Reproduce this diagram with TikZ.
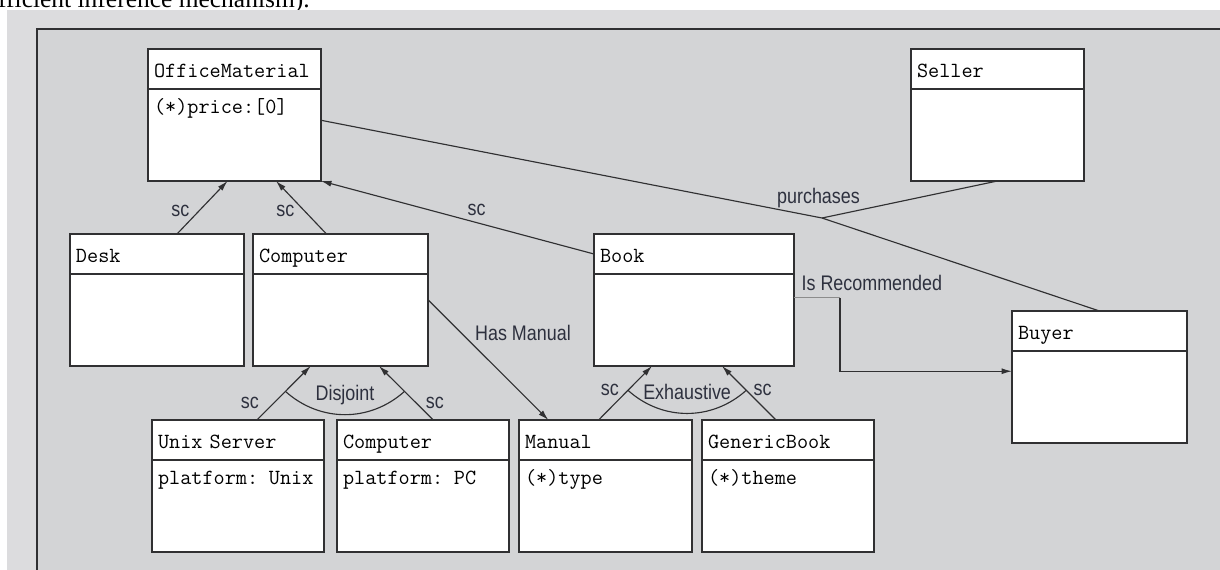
\documentclass[tikz,border=0pt]{standalone}
\usepackage{fontspec}
\newfontfamily\lblfont[FakeStretch=0.85]{Liberation Sans}
\newfontfamily\pagefont{Liberation Serif}
\usetikzlibrary{arrows.meta,positioning,calc}
\definecolor{pagegray}{RGB}{220,220,222}
\definecolor{panelgray}{RGB}{211,212,214}
\definecolor{inkgray}{RGB}{48,48,50}
\definecolor{lblink}{RGB}{45,48,62}
\begin{document}
\begin{tikzpicture}[x=0.02cm,y=-0.02cm,>={Latex[length=2.1mm,width=1.2mm]},
	hdr/.style={draw=inkgray,line width=0.9pt,fill=white,anchor=north west,align=left,outer sep=0pt,
		font=\fontsize{12.3}{14}\ttfamily,inner xsep=0.12cm,inner ysep=0.2cm,text height=0.36cm,text depth=0.04cm},
	bdy/.style={draw=inkgray,line width=0.9pt,fill=white,anchor=north,align=left,outer sep=0pt,
		font=\fontsize{12.3}{14}\ttfamily,inner xsep=0.12cm,inner ysep=0.1cm,text height=0.4cm,text depth=1.24cm},
	lbl/.style={font=\fontsize{12}{14}\lblfont,text=lblink},
	conn/.style={draw=inkgray,line width=0.65pt}]

	\useasboundingbox (0,0) rectangle (1220,569);
	\clip (0,0) rectangle (1220,569);

	% page and panel
	\fill[white] (0,0) rectangle (1220,569);
	\node[font=\fontsize{14.5}{16}\pagefont,anchor=base east,inner sep=0] (caption) at (310,7) {efficient inference mechanism).};
	\fill[pagegray] (7,10) rectangle (1240,590);
	\filldraw[fill=panelgray,draw=inkgray,line width=1pt] (37,29) rectangle (1250,600);

	% classes
	\foreach \id/\x/\y/\w/\title/\attr in {
		om/148/49/3.22/OfficeMaterial/(*)price:[0],
		seller/911/49/3.22/Seller/{},
		desk/70/234/3.24/Desk/{},
		comp/253/234/3.26/Computer/{},
		book/594/234/3.76/Book/{},
		buyer/1012/311/3.26/Buyer/{},
		unix/152/420/3.20/Unix Server/platform: Unix,
		pc/337/420/3.20/Computer/platform: PC,
		man/519/420/3.22/Manual/(*)type,
		gen/702/420/3.20/GenericBook/(*)theme} {
		\node[hdr,text width=\w cm] (\id) at (\x,\y) {\title};
		\node[bdy,text width=\w cm] (\id b) at (\id.south) {\attr};
	}

	% sc links to OfficeMaterial
	\draw[conn,->] ($(desk.north west)!.615!(desk.north east)$) -- node[lbl,pos=.44,left=2pt] {sc} ($(omb.south west)!.46!(omb.south east)$);
	\draw[conn,->] ($(comp.north west)!.42!(comp.north east)$) -- node[lbl,pos=.44,left=2pt] {sc} ($(omb.south west)!.74!(omb.south east)$);
	\draw[conn,->] (book.west) -- node[lbl,pos=.43,above] {sc} (omb.south east);

	% purchases
	\coordinate (deal) at (822,218);
	\draw[conn] ($(omb.north east)!.34!(omb.south east)$) -- (deal) node[lbl,above=2pt,xshift=-2pt] {purchases} -- (buyer.north);
	\draw[conn] (sellerb.south) -- (deal);

	% has manual
	\draw[conn,->] ($(compb.north east)!.28!(compb.south east)$) -- node[lbl,pos=.28,right=4pt] {Has Manual} ($(man.north west)!.17!(man.north east)$);

	% is recommended
	\coordinate (rstart) at ($(bookb.north east)!.26!(bookb.south east)$);
	\coordinate (rbend) at ($(rstart)+(46,0)$);
	\draw[conn,draw=black!45] (rstart) node[lbl,above right=1pt] {Is Recommended} -- (rbend);
	\draw[conn,->] (rbend) |- ($(buyerb.north west)!.22!(buyerb.south west)$);

	% disjoint subclasses of Computer
	\draw[conn,->] ($(unix.north west)!.61!(unix.north east)$) -- node[lbl,pos=.32,left=5pt] {sc} coordinate[pos=.53] (dj1) ($(compb.south west)!.33!(compb.south east)$);
	\draw[conn,->] ($(pc.north west)!.56!(pc.north east)$) -- node[lbl,pos=.32,right=2pt] {sc} coordinate[pos=.53] (dj2) ($(compb.south west)!.72!(compb.south east)$);
	\draw[conn] (dj1) to[bend right=42] node[lbl,above=2pt] {Disjoint} (dj2);

	% exhaustive subclasses of Book
	\draw[conn,->] ($(man.north west)!.46!(man.north east)$) -- node[lbl,pos=.566,left=2pt] {sc} coordinate[pos=.55] (ex1) ($(bookb.south west)!.29!(bookb.south east)$);
	\draw[conn,->] ($(gen.north west)!.43!(gen.north east)$) -- node[lbl,pos=.566,right=1pt] {sc} coordinate[pos=.55] (ex2) ($(bookb.south west)!.64!(bookb.south east)$);
	\draw[conn] (ex1) to[bend right=42] node[lbl,above=4pt] {Exhaustive} (ex2);
\end{tikzpicture}
\end{document}
